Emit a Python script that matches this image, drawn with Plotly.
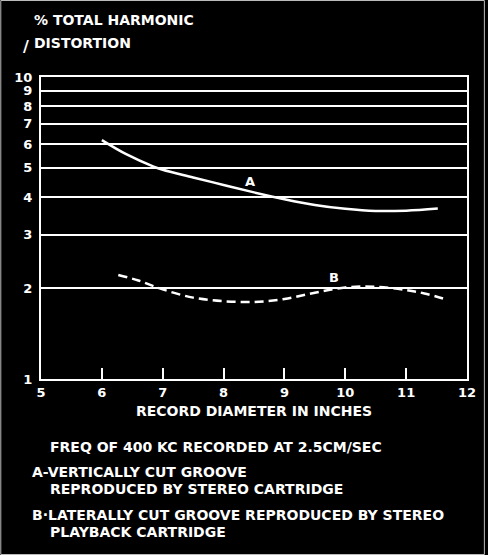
import math
import plotly.graph_objects as go

# Record diameter (inches) vs. % total harmonic distortion
diam_a = [6.0, 6.4, 6.85, 7.0, 7.5, 8.0, 8.5, 9.0, 9.5, 10.0, 10.5, 11.0, 11.52]
thd_a = [6.18, 5.55, 5.05, 4.93, 4.65, 4.39, 4.15, 3.94, 3.77, 3.66, 3.6, 3.61, 3.67]

diam_b = [6.27, 6.6, 7.0, 7.5, 8.0, 8.5, 9.0, 9.5, 10.0, 10.5, 11.0, 11.3, 11.68]
thd_b = [2.21, 2.12, 1.98, 1.86, 1.81, 1.8, 1.84, 1.93, 2.01, 2.02, 1.97, 1.92, 1.83]

x_ticks = [5, 6, 7, 8, 9, 10, 11, 12]
y_ticks = [1, 2, 3, 4, 5, 6, 7, 8, 9, 10]

FONT = "DejaVu Sans"
WHITE = "#ffffff"

fig = go.Figure()

fig.add_trace(go.Scatter(
    x=diam_a, y=thd_a, mode="lines", line=dict(color=WHITE, width=2.5, shape="spline"),
    hoverinfo="skip", showlegend=False))
fig.add_trace(go.Scatter(
    x=diam_b, y=thd_b, mode="lines",
    line=dict(color=WHITE, width=2.5, shape="spline", dash="9px,5px"),
    hoverinfo="skip", showlegend=False))

# curve labels (annotation y on a log axis is given as log10)
lab = dict(family=FONT, size=13, color=WHITE, weight="bold")
fig.add_annotation(x=8.44, y=math.log10(4.5), text="A", showarrow=False, font=lab)
fig.add_annotation(x=9.82, y=math.log10(2.16), text="B", showarrow=False, font=lab)

# plot area geometry in pixels, used to place paper-coordinate text
L, R, T, B = 41, 18, 77, 176
W, H = 488, 555
pw, ph = W - L - R, H - T - B


def px(x):
    return (x - L) / pw


def py(y):
    return (H - B - y) / ph


txt = dict(family=FONT, size=14, color=WHITE, weight="bold")

fig.add_annotation(xref="paper", yref="paper", x=px(32), y=py(20), text="% TOTAL HARMONIC",
                   xanchor="left", yanchor="middle", showarrow=False, font=txt)
fig.add_annotation(xref="paper", yref="paper", x=px(32), y=py(43), text="DISTORTION",
                   xanchor="left", yanchor="middle", showarrow=False, font=txt)
fig.add_annotation(xref="paper", yref="paper", x=px(26), y=py(46), text="/",
                   xanchor="center", yanchor="middle", showarrow=False,
                   font=dict(family=FONT, size=16, color=WHITE, weight="bold"))

notes = [
    (48, 447, "FREQ OF 400 KC RECORDED AT 2.5CM/SEC"),
    (30, 472, "A-VERTICALLY CUT GROOVE"),
    (48, 489, "REPRODUCED BY STEREO CARTRIDGE"),
    (30, 515, "B\u00b7LATERALLY CUT GROOVE REPRODUCED BY STEREO"),
    (48, 532, "PLAYBACK CARTRIDGE"),
]
for nx, ny, t in notes:
    fig.add_annotation(xref="paper", yref="paper", x=px(nx), y=py(ny), text=t,
                       xanchor="left", yanchor="middle", showarrow=False, font=txt)

# thin frame around the whole figure
fig.add_shape(type="rect", xref="paper", yref="paper",
              x0=px(0.5), x1=px(W - 0.5), y0=py(H - 0.5), y1=py(0.5),
              line=dict(color="#bbbbbb", width=1))

fig.update_layout(
    width=W, height=H,
    margin=dict(l=L, r=R, t=T, b=B),
    paper_bgcolor="black", plot_bgcolor="black",
    font=dict(family=FONT, color=WHITE),
)

fig.update_xaxes(
    range=[5, 12], tickvals=x_ticks, ticktext=[str(v) for v in x_ticks],
    showgrid=False, zeroline=False,
    showline=True, linecolor=WHITE, linewidth=2, mirror=True,
    ticks="inside", ticklen=11, tickwidth=2, tickcolor=WHITE,
    tickfont=dict(family=FONT, size=13, color=WHITE, weight="bold"),
    title=dict(text="RECORD DIAMETER IN INCHES", standoff=8,
               font=dict(family=FONT, size=14, color=WHITE, weight="bold")),
)
fig.update_yaxes(
    type="log", range=[0, 1], tickvals=y_ticks, ticktext=[str(v) for v in y_ticks],
    showgrid=True, gridcolor=WHITE, gridwidth=1.5, zeroline=False,
    showline=True, linecolor=WHITE, linewidth=2, mirror=True,
    ticks="", ticklabelstandoff=4,
    tickfont=dict(family=FONT, size=13, color=WHITE, weight="bold"),
)

fig.write_html("out.html")
